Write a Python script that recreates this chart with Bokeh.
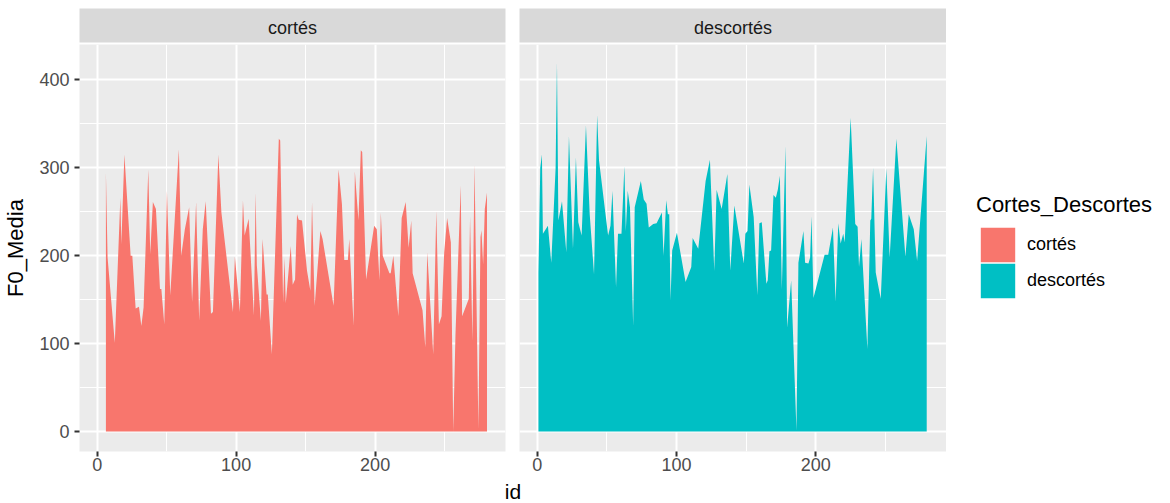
from bokeh.plotting import figure
from bokeh.models import ColumnDataSource, Range1d, FixedTicker, Legend, LegendItem
from bokeh.layouts import row, column
from bokeh.embed import file_html
from bokeh.resources import INLINE
from bokeh.core.properties import value

# ---------------- data ----------------
groups = ["cortés", "descortés"]
colors = ["#F8766D", "#00BFC4"]
legend_title = "Cortes_Descortes"
x_label = "id"
y_label = "F0_Media"
x_ticks = [0, 100, 200]
x_minor = [50, 150, 250]
y_ticks = [0, 100, 200, 300, 400]
y_minor = [50, 150, 250, 350]

id_cortes = [6.3, 7.5, 12.7, 16.7, 17.4, 19.6, 24.1, 25.3, 27.7, 30.1, 31.8, 33.4, 36.8, 38.2, 40.1,
             42.3, 45.2, 46.2, 48.3, 50.2, 52.6, 58.8, 60.5, 63.1, 66.2, 68.3, 71.2, 73.4, 76.0, 78.1,
             81.9, 83.3, 87.2, 89.4, 97.7, 99.1, 102.7, 104.9, 106.1, 109.0, 112.8, 114.0, 114.9, 117.8,
             119.0, 121.9, 122.8, 125.7, 130.7, 131.7, 133.8, 134.8, 135.7, 139.3, 140.7, 142.4, 143.8,
             145.0, 147.4, 151.0, 153.4, 154.6, 156.5, 160.6, 162.2, 170.1, 173.7, 176.1, 177.8, 180.4,
             181.4, 184.5, 185.4, 188.0, 189.7, 190.7, 193.5, 199.3, 201.2, 203.1, 204.1, 205.5, 210.3,
             211.2, 213.1, 216.7, 219.1, 222.0, 224.1, 226.0, 227.0, 234.1, 236.1, 237.5, 241.8, 244.0,
             245.9, 247.8, 249.7, 251.8, 254.5, 256.2, 257.8, 261.6, 262.6, 267.4, 268.3, 270.0, 271.5,
             274.3, 275.8, 276.5, 277.7, 278.9, 280.5]
f0_cortes = [295, 198, 101, 266, 213, 315, 200, 200, 140, 142, 120, 141, 298, 202, 261,
             253, 162, 162, 122, 274, 155, 321, 200, 230, 255, 147, 261, 126, 230, 262,
             134, 136, 315, 249, 136, 199, 136, 263, 223, 242, 132, 272, 189, 126,
             219, 156, 156, 88, 333, 331, 147, 198, 146, 211, 167, 173, 247,
             241, 240, 183, 160, 261, 143, 228, 219, 143, 298, 259, 195, 195,
             219, 120, 296, 240, 320, 318, 173, 234, 230, 172, 249, 200, 180,
             180, 200, 131, 243, 261, 209, 240, 180, 138, 96, 204, 88, 251,
             122, 131, 204, 243, 215, 0, 110, 280, 131, 151, 245, 103, 304,
             3, 221, 229, 190, 253, 272]

id_descortes = [0.9, 2.2, 3.4, 4.1, 7.7, 10.1, 13.2, 14.2, 15.2, 17.8, 20.9, 22.8, 25.7, 27.8, 29.5,
                31.9, 35.0, 37.7, 40.8, 43.0, 44.4, 50.9, 52.6, 54.0, 56.6, 58.0, 60.5, 62.6, 63.6,
                65.0, 66.6, 68.9, 70.0, 74.4, 76.5, 78.5, 80.1, 83.3, 85.7, 89.5, 90.7, 92.6, 93.8,
                94.8, 95.7, 96.9, 100.3, 106.5, 110.6, 111.6, 115.6, 120.9, 124.0, 127.1, 128.8, 132.4,
                136.5, 138.6, 141.5, 148.3, 149.4, 151.0, 152.3, 155.4, 158.0, 159.5, 161.2, 164.5,
                165.5, 166.7, 167.9, 169.6, 171.3, 172.7, 174.2, 175.6, 178.2, 179.4, 182.3, 186.1,
                187.5, 191.1, 192.3, 194.7, 195.9, 196.9, 198.3, 206.3, 208.9, 212.3, 214.2, 216.1,
                217.8, 219.7, 220.7, 225.0, 228.3, 230.0, 231.0, 232.7, 237.0, 239.1, 239.8, 241.1,
                243.0, 246.6, 250.6, 253.0, 257.8, 264.3, 266.7, 270.3, 272.7, 279.6]
f0_descortes = [180, 300, 315, 225, 234, 192, 299, 420, 240, 262, 204, 336, 208, 312, 238,
                223, 348, 247, 179, 360, 308, 223, 234, 274, 164, 225, 225, 302, 228,
                274, 255, 120, 255, 285, 264, 259, 232, 236, 237, 249, 200, 263, 247,
                247, 149, 206, 226, 170, 187, 220, 208, 285, 309, 183, 275, 253,
                293, 183, 257, 191, 225, 228, 281, 244, 155, 237, 238, 168,
                172, 205, 206, 269, 266, 275, 291, 162, 325, 118, 172, 1,
                192, 228, 192, 191, 198, 245, 152, 201, 201, 232, 148, 237,
                214, 225, 215, 357, 236, 233, 187, 219, 94, 240, 242, 300,
                181, 151, 299, 198, 333, 199, 247, 230, 194, 336]

ids = [id_cortes, id_descortes]
f0s = [f0_cortes, f0_descortes]

# ---------------- styling ----------------
FONT = "Liberation Sans"
X_RANGE = (-12.7, 293.8)
Y_RANGE = (-22.7, 440.2)
PANEL_BG = "#EBEBEB"
STRIP_BG = "#D9D9D9"
FRAME_H = 407
FRAME_W = [426, 427]
LEFT = [79, 7]
RIGHT = [7, 0]
TOTAL_H = 503
STRIP_H = 44
AXIS_H = 27


def make_panel(i):
    p = figure(frame_width=FRAME_W[i], frame_height=FRAME_H,
               x_range=Range1d(*X_RANGE), y_range=Range1d(*Y_RANGE),
               output_backend="svg", toolbar_location=None, title=None,
               min_border_left=LEFT[i], min_border_right=RIGHT[i],
               min_border_top=0, min_border_bottom=AXIS_H)
    p.background_fill_color = PANEL_BG
    p.border_fill_color = "white"
    p.outline_line_color = None
    src = ColumnDataSource(dict(x=ids[i], y=f0s[i]))
    p.varea(x="x", y1=0, y2="y", source=src, fill_color=colors[i], fill_alpha=1.0)

    xt = FixedTicker(ticks=x_ticks, minor_ticks=x_minor)
    yt = FixedTicker(ticks=y_ticks, minor_ticks=y_minor)
    p.xaxis.ticker = xt
    p.yaxis.ticker = yt
    for g, t in ((p.xgrid, xt), (p.ygrid, yt)):
        g.ticker = t
        g.grid_line_color = "white"
        g.grid_line_width = 2
        g.minor_grid_line_color = "white"
        g.minor_grid_line_width = 1

    for ax in (p.xaxis, p.yaxis):
        ax.axis_line_color = None
        ax.major_tick_line_color = "#333333"
        ax.major_tick_line_width = 2
        ax.major_tick_out = 5
        ax.major_tick_in = 0
        ax.minor_tick_line_color = None
        ax.major_label_text_font = FONT
        ax.major_label_text_font_size = "18px"
        ax.major_label_text_color = "#4D4D4D"
    p.xaxis.axis_label = None
    p.xaxis.major_label_standoff = 1
    p.yaxis.major_label_standoff = 5
    if i == 0:
        p.yaxis.axis_label = y_label
        p.yaxis.axis_label_text_font = FONT
        p.yaxis.axis_label_text_font_size = "22px"
        p.yaxis.axis_label_text_font_style = "normal"
        p.yaxis.axis_label_text_color = "black"
        p.yaxis.axis_label_standoff = 8
    else:
        p.yaxis.visible = False
    return p


def make_strip(i):
    s = figure(frame_width=FRAME_W[i], frame_height=34,
               x_range=Range1d(0, 1), y_range=Range1d(0, 1),
               output_backend="svg", toolbar_location=None, title=None,
               x_axis_location=None, y_axis_location=None,
               min_border_left=LEFT[i], min_border_right=RIGHT[i],
               min_border_top=STRIP_H - 36, min_border_bottom=2)
    s.background_fill_color = STRIP_BG
    s.border_fill_color = "white"
    s.outline_line_color = None
    s.xgrid.visible = False
    s.ygrid.visible = False
    s.text(x=[0.5], y=[0.44], text=[groups[i]], text_align="center",
           text_baseline="middle", text_font=value(FONT),
           text_font_size="18px", text_color="#1A1A1A")
    return s


panels = [make_panel(0), make_panel(1)]
strips = [make_strip(0), make_strip(1)]

# x-axis title spanning both panels
ID_H = TOTAL_H - STRIP_H - FRAME_H - AXIS_H
idfig = figure(frame_width=FRAME_W[0] + RIGHT[0] + LEFT[1] + FRAME_W[1], frame_height=ID_H,
               x_range=Range1d(0, 1), y_range=Range1d(0, 1),
               output_backend="svg", toolbar_location=None, title=None,
               x_axis_location=None, y_axis_location=None,
               min_border_left=LEFT[0], min_border_right=0, min_border_top=0, min_border_bottom=0)
idfig.outline_line_color = None
idfig.xgrid.visible = False
idfig.ygrid.visible = False
idfig.text(x=[0.5], y=[0.5], text=[x_label], text_align="center", text_baseline="middle",
           text_font=value(FONT), text_font_size="21px", text_color="black")

# legend figure (series drawn off-screen only so the legend can show their fills)
legfig = figure(width=224, height=TOTAL_H, x_range=Range1d(-2000, -1000), y_range=Range1d(0, 1),
                output_backend="svg", toolbar_location=None, title=None,
                x_axis_location=None, y_axis_location=None,
                min_border_left=30, min_border_top=0, min_border_right=0, min_border_bottom=0)
legfig.outline_line_color = None
legfig.xgrid.visible = False
legfig.ygrid.visible = False
rends = []
for i, c in enumerate(colors):
    r = legfig.varea(x=ids[i], y1=0, y2=f0s[i], fill_color=c, fill_alpha=1.0)
    rends.append(r)

common = dict(orientation="vertical", margin=0, padding=0, spacing=0,
              glyph_width=43, glyph_height=43, label_standoff=8,
              label_text_font=FONT, label_text_font_size="18px", label_text_color="black",
              border_line_color=None, background_fill_alpha=0)
legend1 = Legend(items=[LegendItem(label=groups[0], renderers=[rends[0]])],
                 title=legend_title, title_text_font=FONT, title_text_font_size="22px",
                 title_text_font_style="normal", title_text_color="black", title_standoff=5,
                 location=(0, TOTAL_H - 266), **common)
legend2 = Legend(items=[LegendItem(label=groups[1], renderers=[rends[1]])],
                 location=(0, TOTAL_H - 302), **common)
legfig.add_layout(legend1)
legfig.add_layout(legend2)

left_col = column(row(strips[0], strips[1]), row(panels[0], panels[1]), idfig)
layout = row(left_col, legfig)

open("out.html", "w").write(file_html(layout, INLINE))
